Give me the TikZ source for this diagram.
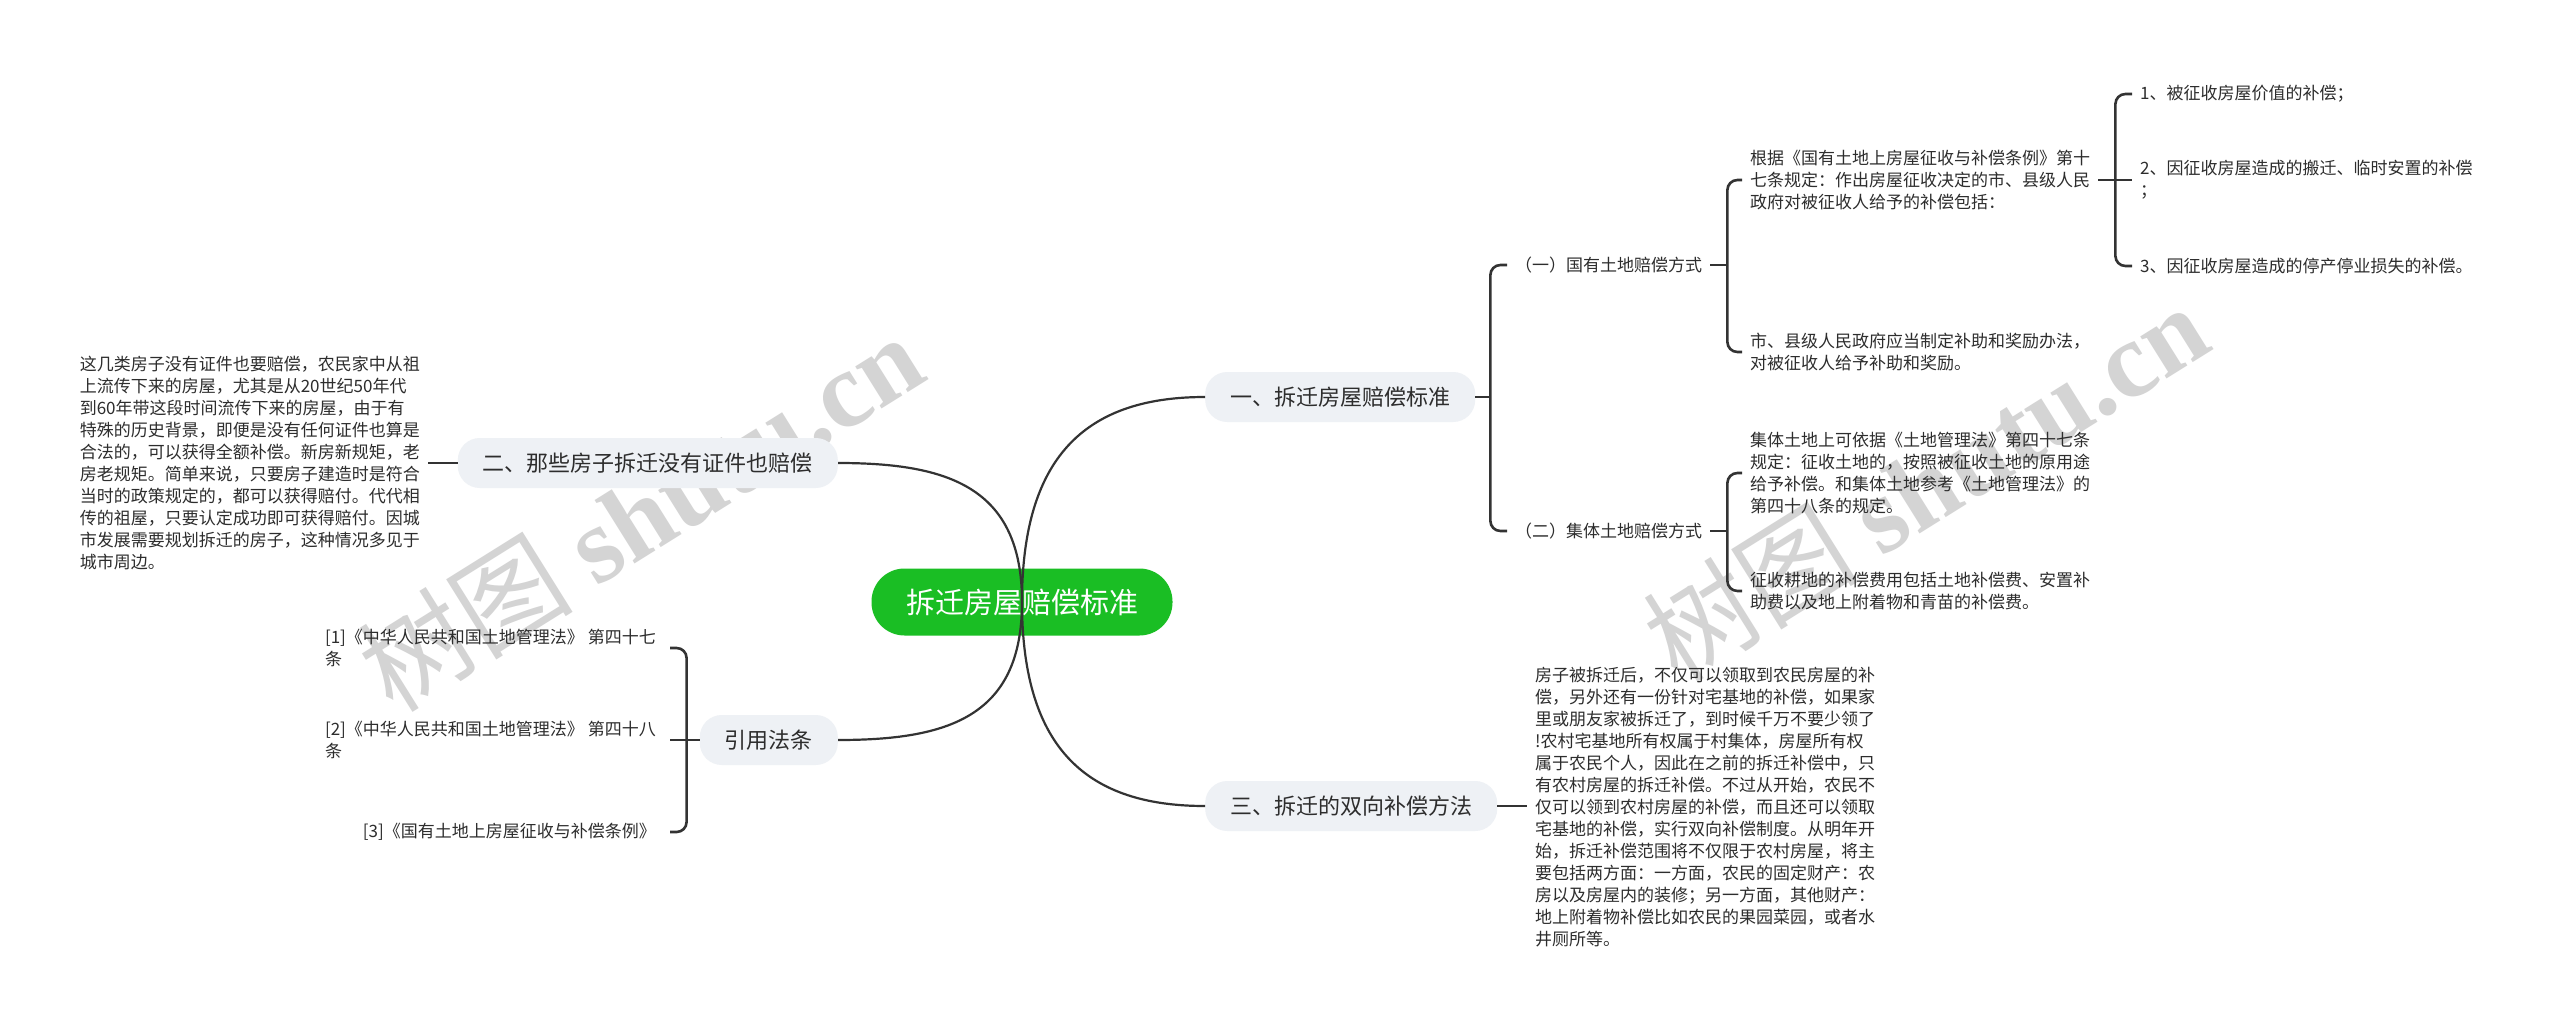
\documentclass[tikz,border=0pt]{standalone}
\usepackage{fontspec}
\setmainfont{Noto Sans CJK SC}
\newfontfamily\markserif{Liberation Serif}
\definecolor{rootgreen}{RGB}{26,190,36}
\definecolor{boxgray}{RGB}{238,241,245}
\definecolor{linegray}{RGB}{51,51,51}
\definecolor{inkgray}{RGB}{45,45,45}

\begin{document}
\begin{tikzpicture}[x=1pt, y=-1pt,
    root/.style={fill=rootgreen, text=white, rounded corners=33pt, minimum width=301pt, minimum height=67pt, font=\fontsize{29}{34}\selectfont},
    branch/.style={fill=boxgray, text=inkgray, rounded corners=22pt, minimum height=50pt, inner xsep=25pt, font=\fontsize{22}{26}\selectfont},
    leaf/.style={text=inkgray, inner xsep=8pt, inner ysep=0pt, align=left, font=\fontsize{17}{22}\selectfont},
    link/.style={draw=linegray, line width=2.2pt},
    brace/.style={draw=linegray, line width=2.6pt, rounded corners=10pt},
    watermark/.style={rotate=32, text=black!17, font=\fontsize{108}{112}\selectfont}]

    % Canvas
    \fill[white] (0,0) rectangle (2560,1030);
    \useasboundingbox (0,0) rectangle (2560,1030);

    % Watermarks
    \node[watermark] (markL) at (640,512) {树图 {\markserif\bfseries shutu.cn}};
    \node[watermark] (markR) at (1925,482) {树图 {\markserif\bfseries shutu.cn}};

    % Root
    \node[root] (root) at (1022,602) {拆迁房屋赔偿标准};

    % Main branches
    \node[branch, anchor=west] (std) at (1205,397) {一、拆迁房屋赔偿标准};
    \node[branch, anchor=west] (twoway) at (1205,806) {三、拆迁的双向补偿方法};
    \node[branch, anchor=east] (nodoc) at (838,463) {二、那些房子拆迁没有证件也赔偿};
    \node[branch, anchor=east] (laws) at (838,740) {引用法条};

    \draw[link] (root.center) .. controls +(0,-150) and +(-115,0) .. (std.west);
    \draw[link] (root.center) .. controls +(0,150) and +(-115,0) .. (twoway.west);
    \draw[link] (root.center) .. controls +(0,-115) and +(110,0) .. (nodoc.east);
    \draw[link] (root.center) .. controls +(0,115) and +(110,0) .. (laws.east);

    % 一: land types
    \node[leaf, anchor=west] (stateland) at (1507,265) {（一）国有土地赔偿方式};
    \node[leaf, anchor=west] (collland) at (1507,531) {（二）集体土地赔偿方式};
    \draw[brace] (std.east) -- ++(15,0) coordinate (stdk);
    \draw[brace] (stateland.west) -| (stdk) |- (collland.west);

    % State land
    \node[leaf, anchor=west] (stateRule) at (1742,180) {根据《国有土地上房屋征收与补偿条例》第十\\七条规定：作出房屋征收决定的市、县级人民\\政府对被征收人给予的补偿包括：};
    \node[leaf, anchor=west] (stateAward) at (1742,352) {市、县级人民政府应当制定补助和奖励办法，\\对被征收人给予补助和奖励。};
    \draw[brace] (stateland.east) -- ++(17,0) coordinate (statek);
    \draw[brace] (stateRule.west) -| (statek) |- (stateAward.west);

    \node[leaf, anchor=west] (itemA) at (2132,94) {1、被征收房屋价值的补偿；};
    \node[leaf, anchor=west] (itemB) at (2132,180) {2、因征收房屋造成的搬迁、临时安置的补偿\\；};
    \node[leaf, anchor=west] (itemC) at (2132,266) {3、因征收房屋造成的停产停业损失的补偿。};
    \draw[brace] (stateRule.east) -- ++(17,0) coordinate (rulek);
    \draw[brace] (itemA.west) -| (rulek) |- (itemC.west);
    \draw[brace] (stateRule.east) -- (stateRule.east -| itemB.west);

    % Collective land
    \node[leaf, anchor=west] (collRule) at (1742,473) {集体土地上可依据《土地管理法》第四十七条\\规定：征收土地的，按照被征收土地的原用途\\给予补偿。和集体土地参考《土地管理法》的\\第四十八条的规定。};
    \node[leaf, anchor=west] (collFarm) at (1742,591) {征收耕地的补偿费用包括土地补偿费、安置补\\助费以及地上附着物和青苗的补偿费。};
    \draw[brace] (collland.east) -- ++(17,0) coordinate (collk);
    \draw[brace] (collRule.west) -| (collk) |- (collFarm.west);

    % 三: two-way compensation
    \node[leaf, anchor=west] (twowayText) at (1527,807) {房子被拆迁后，不仅可以领取到农民房屋的补\\偿，另外还有一份针对宅基地的补偿，如果家\\里或朋友家被拆迁了，到时候千万不要少领了\\!农村宅基地所有权属于村集体，房屋所有权\\属于农民个人，因此在之前的拆迁补偿中，只\\有农村房屋的拆迁补偿。不过从开始，农民不\\仅可以领到农村房屋的补偿，而且还可以领取\\宅基地的补偿，实行双向补偿制度。从明年开\\始，拆迁补偿范围将不仅限于农村房屋，将主\\要包括两方面：一方面，农民的固定财产：农\\房以及房屋内的装修；另一方面，其他财产：\\地上附着物补偿比如农民的果园菜园，或者水\\井厕所等。};
    \draw[brace] (twoway.east) -- (twoway.east -| twowayText.west);

    % 二: houses without papers
    \node[leaf, anchor=east] (nodocText) at (428,463) {这几类房子没有证件也要赔偿，农民家中从祖\\上流传下来的房屋，尤其是从20世纪50年代\\到60年带这段时间流传下来的房屋，由于有\\特殊的历史背景，即便是没有任何证件也算是\\合法的，可以获得全额补偿。新房新规矩，老\\房老规矩。简单来说，只要房子建造时是符合\\当时的政策规定的，都可以获得赔付。代代相\\传的祖屋，只要认定成功即可获得赔付。因城\\市发展需要规划拆迁的房子，这种情况多见于\\城市周边。};
    \draw[brace] (nodoc.west) -- (nodoc.west -| nodocText.east);

    % Cited laws
    \node[leaf, anchor=east] (refA) at (664,648) {[1]《中华人民共和国土地管理法》 第四十七\\条};
    \node[leaf, anchor=east] (refB) at (664,740) {[2]《中华人民共和国土地管理法》 第四十八\\条};
    \node[leaf, anchor=east] (refC) at (664,832) {[3]《国有土地上房屋征收与补偿条例》};
    \draw[brace] (laws.west) -- ++(-13,0) coordinate (lawk);
    \draw[brace] ([xshift=6pt]refA.east) -| (lawk) |- ([xshift=6pt]refC.east);
    \draw[brace] (laws.west) -- ([xshift=6pt]laws.west -| refB.east);
\end{tikzpicture}
\end{document}
